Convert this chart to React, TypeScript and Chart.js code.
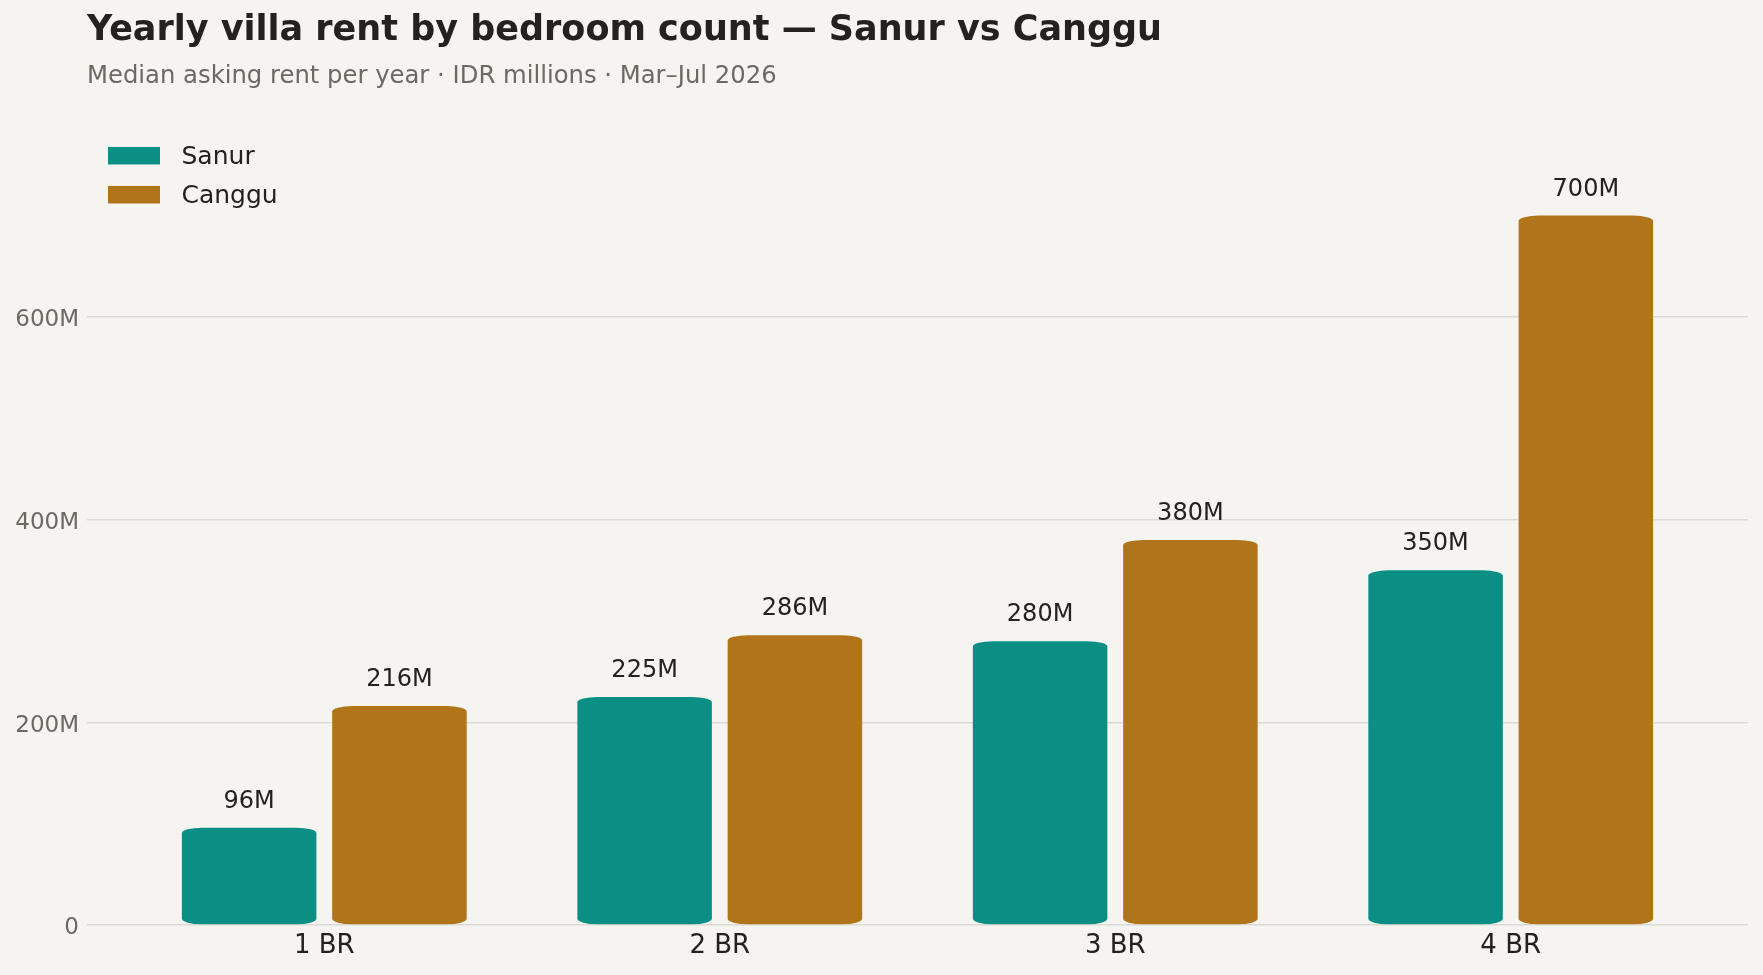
import { useEffect, useRef } from 'react';
import { Chart, registerables } from 'chart.js';

Chart.register(...registerables);

const categories = ['1 BR', '2 BR', '3 BR', '4 BR'];
const seriesNames = ['Sanur', 'Canggu'];
const sanurValues = [96, 225, 280, 350];
const cangguValues = [216, 286, 380, 700];
const seriesColors = ['#0b8f84', '#b0741a'];
const yTickValues = [0, 200, 400, 600];
const titleText = 'Yearly villa rent by bedroom count — Sanur vs Canggu';
const subtitleText = 'Median asking rent per year · IDR millions · Mar–Jul 2026';

const FONT = "'DejaVu Sans', sans-serif";
const DARK = '#24221e';
const GREY = '#6c6963';
const BG = '#f5f4f0';

const roundedBars = {
  id: 'roundedBars',
  beforeDatasetDraw(chart: any, args: any) {
    const ctx = chart.ctx;
    const meta = args.meta;
    ctx.save();
    meta.data.forEach((el: any) => {
      const { x, y, base, width } = el.getProps(['x', 'y', 'base', 'width'], true);
      const l = x - width / 2;
      const r = x + width / 2;
      const t = Math.min(y, base);
      const b = Math.max(y, base);
      const rx = Math.min(20, width / 2);
      const ry = Math.min(5.5, (b - t) / 2);
      ctx.fillStyle = el.options.backgroundColor;
      ctx.beginPath();
      ctx.moveTo(l + rx, t);
      ctx.lineTo(r - rx, t);
      ctx.ellipse(r - rx, t + ry, rx, ry, 0, -Math.PI / 2, 0);
      ctx.lineTo(r, b - ry);
      ctx.ellipse(r - rx, b - ry, rx, ry, 0, 0, Math.PI / 2);
      ctx.lineTo(l + rx, b);
      ctx.ellipse(l + rx, b - ry, rx, ry, 0, Math.PI / 2, Math.PI);
      ctx.lineTo(l, t + ry);
      ctx.ellipse(l + rx, t + ry, rx, ry, 0, Math.PI, Math.PI * 1.5);
      ctx.closePath();
      ctx.fill();
    });
    ctx.restore();
    return false;
  },
};

const valueLabels = {
  id: 'valueLabels',
  afterDatasetsDraw(chart: any) {
    const ctx = chart.ctx;
    ctx.save();
    ctx.font = `24px ${FONT}`;
    ctx.fillStyle = DARK;
    ctx.textAlign = 'center';
    ctx.textBaseline = 'alphabetic';
    chart.data.datasets.forEach((ds: any, i: number) => {
      const meta = chart.getDatasetMeta(i);
      meta.data.forEach((el: any, j: number) => {
        ctx.fillText(`${ds.data[j].y}M`, el.x, el.y - 20);
      });
    });
    ctx.restore();
  },
};

const boxLegend = {
  id: 'boxLegend',
  afterDraw(chart: any) {
    const ctx = chart.ctx;
    const { left, top } = chart.chartArea;
    ctx.save();
    ctx.font = `25px ${FONT}`;
    ctx.textAlign = 'left';
    ctx.textBaseline = 'middle';
    chart.data.datasets.forEach((ds: any, i: number) => {
      const y0 = top + 2.3 + i * 39;
      ctx.fillStyle = ds.backgroundColor;
      ctx.fillRect(left + 21, y0, 52, 17.5);
      ctx.fillStyle = DARK;
      ctx.fillText(ds.label, left + 94.5, y0 + 10.5);
    });
    ctx.restore();
  },
};

export default function App() {
  const canvasRef = useRef<HTMLCanvasElement | null>(null);

  useEffect(() => {
    document.body.style.margin = '0';
    document.body.style.background = BG;
    const canvas = canvasRef.current;
    if (!canvas) return;
    const seriesValues = [sanurValues, cangguValues];
    const chart = new Chart(canvas, {
      type: 'bar',
      data: {
        datasets: seriesNames.map((name, s) => ({
          label: name,
          data: seriesValues[s].map((v, i) => ({ x: i, y: v })),
          backgroundColor: seriesColors[s],
          categoryPercentage: 0.76,
          barPercentage: 0.895,
        })),
      },
      options: {
        animation: false,
        responsive: true,
        maintainAspectRatio: false,
        events: [],
        layout: { padding: { left: 0, right: 15, top: 0, bottom: 0 } },
        scales: {
          x: {
            type: 'linear',
            min: -0.6,
            max: 3.6,
            offset: false,
            grid: { display: false, drawTicks: false, offset: false },
            border: { display: false },
            afterBuildTicks: (scale: any) => {
              scale.ticks = categories.map((_, i) => ({ value: i }));
            },
            afterFit: (scale: any) => {
              scale.height = 50;
            },
            ticks: {
              padding: 6,
              color: DARK,
              font: { family: FONT, size: 26 },
              callback: (v: any) => categories[Math.round(Number(v))] ?? '',
              maxRotation: 0,
              autoSkip: false,
            },
          },
          y: {
            type: 'linear',
            min: 0,
            max: 770,
            grid: { color: '#dddad5', lineWidth: 1.5, drawTicks: false },
            border: { display: false },
            afterBuildTicks: (scale: any) => {
              scale.ticks = yTickValues.map((v) => ({ value: v }));
            },
            afterFit: (scale: any) => {
              scale.width = 87;
            },
            ticks: {
              padding: 8,
              labelOffset: 3.5,
              color: GREY,
              font: { family: FONT, size: 23 },
              callback: (v: any) => (Number(v) === 0 ? '0' : `${v}M`),
            },
          },
        },
        plugins: {
          legend: { display: false },
          tooltip: { enabled: false },
          title: {
            display: true,
            text: titleText,
            align: 'start',
            fullSize: false,
            color: DARK,
            font: { family: FONT, size: 35, weight: 'bold', lineHeight: 1.2 },
            padding: { top: 9.5, bottom: 0 },
          },
          subtitle: {
            display: true,
            text: subtitleText,
            align: 'start',
            fullSize: false,
            color: GREY,
            font: { family: FONT, size: 24.3, weight: 'normal', lineHeight: 1.2 },
            padding: { top: 11, bottom: 53 },
          },
        },
      } as any,
      plugins: [roundedBars, valueLabels, boxLegend],
    });
    return () => chart.destroy();
  }, []);

  return (
    <div style={{ width: 1763, height: 975, background: BG, position: 'relative' }}>
      <canvas ref={canvasRef} />
    </div>
  );
}
